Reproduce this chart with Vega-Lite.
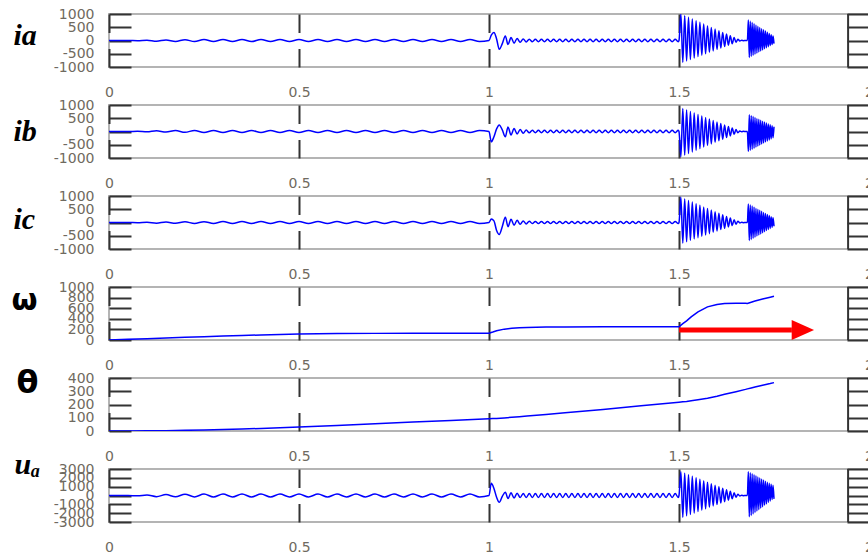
{
"$schema": "https://vega.github.io/schema/vega-lite/v6.json",
"background": "white",
"padding": {"left": 10, "top": 6, "right": 0, "bottom": 0},
"spacing": 38,
"bounds": "flush",
"config": {
  "view": {"stroke": "#b4b4b4", "strokeWidth": 2},
  "axis": {"labelFont": "DejaVu Sans", "labelFontSize": 14, "labelColor": "#6f6a60", "ticks": false, "tickSize": 0, "domain": false, "grid": true, "gridColor": "#333333", "gridWidth": 2, "gridOpacity": 1, "labelOverlap": false, "labelBound": false, "titleColor": "#000000"},
  "axisX": {"gridDash": [18.5, 16], "labelPadding": 18, "labelFlush": false},
  "axisY": {"gridDash": [22, 716], "labelPadding": 15, "titleAngle": 0, "titleAlign": "left", "titleBaseline": "alphabetic", "labelExpr": "'' + datum.value"}
},
"datasets": {
"cur": [
{"t":0,"ia":0,"ib":0,"ic":0,"ua":0},
{"t":0.025,"ia":0,"ib":0,"ic":0,"ua":0},
{"t":0.05,"ia":2,"ib":-2,"ic":1,"ua":10},
{"t":0.075,"ia":-8,"ib":8,"ic":-6,"ua":-40},
{"t":0.1,"ia":12,"ib":-12,"ic":10,"ua":60},
{"t":0.125,"ia":-28,"ib":28,"ic":-24,"ua":-130},
{"t":0.15,"ia":22,"ib":-22,"ic":20,"ua":100},
{"t":0.175,"ia":-36,"ib":35,"ic":-32,"ua":-150},
{"t":0.2,"ia":32,"ib":-30,"ic":28,"ua":150},
{"t":0.225,"ia":-40,"ib":38,"ic":-36,"ua":-160},
{"t":0.25,"ia":36,"ib":-36,"ic":32,"ua":160},
{"t":0.275,"ia":-40,"ib":40,"ic":-36,"ua":-165},
{"t":0.3,"ia":40,"ib":-38,"ic":36,"ua":160},
{"t":0.325,"ia":-38,"ib":40,"ic":-34,"ua":-160},
{"t":0.35,"ia":40,"ib":-40,"ic":36,"ua":165},
{"t":0.375,"ia":-40,"ib":38,"ic":-36,"ua":-160},
{"t":0.4,"ia":38,"ib":-40,"ic":34,"ua":160},
{"t":0.425,"ia":-40,"ib":40,"ic":-36,"ua":-165},
{"t":0.45,"ia":40,"ib":-38,"ic":36,"ua":160},
{"t":0.475,"ia":-38,"ib":40,"ic":-34,"ua":-160},
{"t":0.5,"ia":40,"ib":-40,"ic":36,"ua":165},
{"t":0.525,"ia":-40,"ib":38,"ic":-36,"ua":-160},
{"t":0.55,"ia":38,"ib":-40,"ic":34,"ua":160},
{"t":0.575,"ia":-40,"ib":40,"ic":-36,"ua":-165},
{"t":0.6,"ia":40,"ib":-38,"ic":36,"ua":160},
{"t":0.625,"ia":-38,"ib":40,"ic":-34,"ua":-160},
{"t":0.65,"ia":40,"ib":-40,"ic":36,"ua":165},
{"t":0.675,"ia":-40,"ib":38,"ic":-36,"ua":-160},
{"t":0.7,"ia":38,"ib":-40,"ic":34,"ua":160},
{"t":0.725,"ia":-40,"ib":40,"ic":-36,"ua":-165},
{"t":0.75,"ia":40,"ib":-38,"ic":36,"ua":160},
{"t":0.775,"ia":-38,"ib":40,"ic":-34,"ua":-160},
{"t":0.8,"ia":40,"ib":-40,"ic":36,"ua":165},
{"t":0.825,"ia":-40,"ib":38,"ic":-36,"ua":-160},
{"t":0.85,"ia":38,"ib":-40,"ic":34,"ua":160},
{"t":0.875,"ia":-40,"ib":40,"ic":-36,"ua":-165},
{"t":0.9,"ia":40,"ib":-38,"ic":36,"ua":160},
{"t":0.925,"ia":-38,"ib":40,"ic":-34,"ua":-160},
{"t":0.95,"ia":40,"ib":-40,"ic":36,"ua":165},
{"t":0.975,"ia":-40,"ib":38,"ic":-36,"ua":-160},
{"t":1.0,"ia":0,"ib":0,"ic":0,"ua":0},
{"t":1.006,"ia":200,"ib":-390,"ic":130,"ua":1380},
{"t":1.013,"ia":300,"ib":-200,"ic":60,"ua":800},
{"t":1.02,"ia":60,"ib":100,"ic":-300,"ua":-200},
{"t":1.027,"ia":-330,"ib":250,"ic":-450,"ua":-770},
{"t":1.035,"ia":-120,"ib":60,"ic":-150,"ua":-100},
{"t":1.043,"ia":170,"ib":-200,"ic":200,"ua":380},
{"t":1.05,"ia":-150,"ib":170,"ic":-160,"ua":-350},
{"t":1.058,"ia":110,"ib":-130,"ic":120,"ua":300},
{"t":1.066,"ia":-100,"ib":110,"ic":-100,"ua":-280},
{"t":1.074,"ia":80,"ib":-90,"ic":85,"ua":260},
{"t":1.082,"ia":-70,"ib":75,"ic":-70,"ua":-240},
{"t":1.09,"ia":60,"ib":-65,"ic":60,"ua":230},
{"t":1.098,"ia":-55,"ib":55,"ic":-55,"ua":-225},
{"t":1.106,"ia":50,"ib":-50,"ic":50,"ua":220},
{"t":1.114,"ia":-45,"ib":45,"ic":-42,"ua":-220},
{"t":1.122,"ia":45,"ib":-45,"ic":42,"ua":220},
{"t":1.13,"ia":-45,"ib":45,"ic":-42,"ua":-220},
{"t":1.138,"ia":44,"ib":-45,"ic":42,"ua":215},
{"t":1.146,"ia":-45,"ib":44,"ic":-42,"ua":-220},
{"t":1.154,"ia":45,"ib":-45,"ic":41,"ua":220},
{"t":1.162,"ia":-44,"ib":45,"ic":-42,"ua":-215},
{"t":1.17,"ia":45,"ib":-44,"ic":42,"ua":220},
{"t":1.178,"ia":-45,"ib":45,"ic":-42,"ua":-220},
{"t":1.186,"ia":45,"ib":-45,"ic":42,"ua":220},
{"t":1.194,"ia":-44,"ib":45,"ic":-41,"ua":-215},
{"t":1.202,"ia":45,"ib":-44,"ic":42,"ua":220},
{"t":1.21,"ia":-45,"ib":45,"ic":-42,"ua":-220},
{"t":1.218,"ia":44,"ib":-45,"ic":42,"ua":215},
{"t":1.226,"ia":-45,"ib":44,"ic":-42,"ua":-220},
{"t":1.234,"ia":45,"ib":-45,"ic":41,"ua":220},
{"t":1.242,"ia":-44,"ib":45,"ic":-42,"ua":-215},
{"t":1.25,"ia":45,"ib":-44,"ic":42,"ua":220},
{"t":1.258,"ia":-45,"ib":45,"ic":-42,"ua":-220},
{"t":1.266,"ia":45,"ib":-45,"ic":42,"ua":220},
{"t":1.274,"ia":-44,"ib":45,"ic":-41,"ua":-215},
{"t":1.282,"ia":45,"ib":-44,"ic":42,"ua":220},
{"t":1.29,"ia":-45,"ib":45,"ic":-42,"ua":-220},
{"t":1.298,"ia":44,"ib":-45,"ic":42,"ua":215},
{"t":1.306,"ia":-45,"ib":44,"ic":-42,"ua":-220},
{"t":1.314,"ia":45,"ib":-45,"ic":41,"ua":220},
{"t":1.322,"ia":-44,"ib":45,"ic":-42,"ua":-215},
{"t":1.33,"ia":45,"ib":-44,"ic":42,"ua":220},
{"t":1.338,"ia":-45,"ib":45,"ic":-42,"ua":-220},
{"t":1.346,"ia":45,"ib":-45,"ic":42,"ua":220},
{"t":1.354,"ia":-44,"ib":45,"ic":-41,"ua":-215},
{"t":1.362,"ia":45,"ib":-44,"ic":42,"ua":220},
{"t":1.37,"ia":-45,"ib":45,"ic":-42,"ua":-220},
{"t":1.378,"ia":44,"ib":-45,"ic":42,"ua":215},
{"t":1.386,"ia":-45,"ib":44,"ic":-42,"ua":-220},
{"t":1.394,"ia":45,"ib":-45,"ic":41,"ua":220},
{"t":1.402,"ia":-44,"ib":45,"ic":-42,"ua":-215},
{"t":1.41,"ia":45,"ib":-44,"ic":42,"ua":220},
{"t":1.418,"ia":-45,"ib":45,"ic":-42,"ua":-220},
{"t":1.426,"ia":45,"ib":-45,"ic":42,"ua":220},
{"t":1.434,"ia":-44,"ib":45,"ic":-41,"ua":-215},
{"t":1.442,"ia":45,"ib":-44,"ic":42,"ua":220},
{"t":1.45,"ia":-45,"ib":45,"ic":-42,"ua":-220},
{"t":1.458,"ia":44,"ib":-45,"ic":42,"ua":215},
{"t":1.466,"ia":-45,"ib":44,"ic":-42,"ua":-220},
{"t":1.474,"ia":45,"ib":-45,"ic":41,"ua":220},
{"t":1.482,"ia":-44,"ib":45,"ic":-42,"ua":-215},
{"t":1.49,"ia":45,"ib":-44,"ic":42,"ua":220},
{"t":1.498,"ia":-45,"ib":45,"ic":-42,"ua":-220},
{"t":1.5,"ia":0,"ib":0,"ic":0,"ua":0},
{"t":1.505,"ia":1000,"ib":-950,"ic":950,"ua":2700},
{"t":1.51,"ia":-823,"ib":871,"ic":-774,"ua":-2468},
{"t":1.515,"ia":937,"ib":-890,"ic":890,"ua":2530},
{"t":1.52,"ia":-769,"ib":815,"ic":-724,"ua":-2308},
{"t":1.525,"ia":873,"ib":-829,"ic":829,"ua":2357},
{"t":1.53,"ia":-716,"ib":758,"ic":-674,"ua":-2147},
{"t":1.535,"ia":810,"ib":-770,"ic":770,"ua":2187},
{"t":1.54,"ia":-661,"ib":700,"ic":-622,"ua":-1984},
{"t":1.545,"ia":747,"ib":-710,"ic":710,"ua":2017},
{"t":1.55,"ia":-608,"ib":644,"ic":-572,"ua":-1823},
{"t":1.555,"ia":684,"ib":-650,"ic":650,"ua":1847},
{"t":1.56,"ia":-554,"ib":587,"ic":-522,"ua":-1663},
{"t":1.565,"ia":620,"ib":-589,"ic":589,"ua":1674},
{"t":1.57,"ia":-501,"ib":530,"ic":-471,"ua":-1502},
{"t":1.575,"ia":557,"ib":-529,"ic":529,"ua":1504},
{"t":1.58,"ia":-446,"ib":473,"ic":-420,"ua":-1339},
{"t":1.585,"ia":494,"ib":-469,"ic":469,"ua":1334},
{"t":1.59,"ia":-393,"ib":416,"ic":-370,"ua":-1178},
{"t":1.595,"ia":430,"ib":-409,"ic":409,"ua":1161},
{"t":1.6,"ia":-339,"ib":359,"ic":-319,"ua":-1017},
{"t":1.605,"ia":367,"ib":-349,"ic":349,"ua":991},
{"t":1.61,"ia":-285,"ib":302,"ic":-268,"ua":-854},
{"t":1.615,"ia":304,"ib":-289,"ic":289,"ua":821},
{"t":1.62,"ia":-231,"ib":245,"ic":-218,"ua":-694},
{"t":1.625,"ia":241,"ib":-229,"ic":229,"ua":651},
{"t":1.63,"ia":-178,"ib":188,"ic":-167,"ua":-533},
{"t":1.635,"ia":177,"ib":-168,"ic":168,"ua":478},
{"t":1.64,"ia":-124,"ib":131,"ic":-117,"ua":-372},
{"t":1.645,"ia":114,"ib":-108,"ic":108,"ua":308},
{"t":1.65,"ia":-70,"ib":74,"ic":-66,"ua":-209},
{"t":1.655,"ia":51,"ib":-48,"ic":48,"ua":138},
{"t":1.66,"ia":-16,"ib":17,"ic":-15,"ua":-48},
{"t":1.665,"ia":5,"ib":-5,"ic":5,"ua":15},
{"t":1.67,"ia":-5,"ib":5,"ic":-5,"ua":-15},
{"t":1.675,"ia":0,"ib":0,"ic":0,"ua":0},
{"t":1.68,"ia":0,"ib":0,"ic":0,"ua":0},
{"t":1.6825,"ia":770,"ib":-750,"ic":700,"ua":2700},
{"t":1.685,"ia":-640,"ib":633,"ic":-679,"ua":-2418},
{"t":1.6875,"ia":724,"ib":-711,"ic":660,"ua":2581},
{"t":1.69,"ia":-599,"ib":598,"ic":-638,"ua":-2255},
{"t":1.6925,"ia":678,"ib":-672,"ic":620,"ua":2462},
{"t":1.695,"ia":-558,"ib":563,"ic":-596,"ua":-2092},
{"t":1.6975,"ia":632,"ib":-632,"ic":580,"ua":2342},
{"t":1.7,"ia":-517,"ib":529,"ic":-555,"ua":-1929},
{"t":1.7025,"ia":585,"ib":-593,"ic":540,"ua":2223},
{"t":1.705,"ia":-477,"ib":494,"ic":-513,"ua":-1766},
{"t":1.7075,"ia":539,"ib":-554,"ic":500,"ua":2104},
{"t":1.71,"ia":-436,"ib":460,"ic":-472,"ua":-1603},
{"t":1.7125,"ia":493,"ib":-515,"ic":460,"ua":1985},
{"t":1.715,"ia":-395,"ib":425,"ic":-430,"ua":-1440},
{"t":1.7175,"ia":447,"ib":-475,"ic":420,"ua":1865},
{"t":1.72,"ia":-354,"ib":390,"ic":-388,"ua":-1277},
{"t":1.7225,"ia":401,"ib":-436,"ic":380,"ua":1746},
{"t":1.725,"ia":-313,"ib":356,"ic":-347,"ua":-1114},
{"t":1.7275,"ia":355,"ib":-397,"ic":340,"ua":1627},
{"t":1.73,"ia":-273,"ib":321,"ic":-305,"ua":-951},
{"t":1.7325,"ia":308,"ib":-358,"ic":300,"ua":1508},
{"t":1.735,"ia":-232,"ib":287,"ic":-264,"ua":-788},
{"t":1.7375,"ia":262,"ib":-318,"ic":260,"ua":1388},
{"t":1.74,"ia":-191,"ib":252,"ic":-222,"ua":-625},
{"t":1.7425,"ia":216,"ib":-279,"ic":220,"ua":1269},
{"t":1.745,"ia":-150,"ib":217,"ic":-181,"ua":-462},
{"t":1.7475,"ia":170,"ib":-240,"ic":180,"ua":1150},
{"t":1.75,"ia":-120,"ib":180,"ic":-140,"ua":-380}
],
"mech": [
{"t":0,"w":0,"th":0},
{"t":0.05,"w":12,"th":0.3},
{"t":0.1,"w":25,"th":1.2},
{"t":0.15,"w":37,"th":2.8},
{"t":0.2,"w":50,"th":5},
{"t":0.25,"w":62,"th":7.8},
{"t":0.3,"w":74,"th":11},
{"t":0.35,"w":85,"th":15},
{"t":0.4,"w":96,"th":19.5},
{"t":0.45,"w":106,"th":24.5},
{"t":0.5,"w":114,"th":30},
{"t":0.6,"w":122,"th":42},
{"t":0.7,"w":125,"th":54.5},
{"t":0.8,"w":126,"th":67},
{"t":0.9,"w":127,"th":79.5},
{"t":1.0,"w":127,"th":92},
{"t":1.01,"w":150,"th":93.5},
{"t":1.02,"w":175,"th":95},
{"t":1.04,"w":205,"th":99},
{"t":1.06,"w":222,"th":103},
{"t":1.08,"w":232,"th":108},
{"t":1.1,"w":238,"th":112.5},
{"t":1.15,"w":244,"th":124.5},
{"t":1.2,"w":247,"th":137},
{"t":1.3,"w":249,"th":163},
{"t":1.4,"w":250,"th":190},
{"t":1.5,"w":250,"th":217},
{"t":1.51,"w":310,"th":220},
{"t":1.52,"w":360,"th":223},
{"t":1.532,"w":437,"th":228},
{"t":1.55,"w":530,"th":236},
{"t":1.575,"w":625,"th":248},
{"t":1.6,"w":670,"th":263},
{"t":1.62,"w":690,"th":277},
{"t":1.65,"w":695,"th":297},
{"t":1.675,"w":695,"th":314},
{"t":1.68,"w":688,"th":318},
{"t":1.69,"w":712,"th":325},
{"t":1.7,"w":735,"th":332},
{"t":1.72,"w":775,"th":346},
{"t":1.74,"w":808,"th":358},
{"t":1.75,"w":825,"th":365}
]
},
"vconcat": [
{
 "width": 760, "height": 53,
 "layer": [
  {"data": {"name": "cur"},
   "mark": {"type": "line", "color": "#0000ff", "strokeWidth": 1.5, "interpolate": "monotone", "clip": true},
   "encoding": {
    "x": {"field": "t", "type": "quantitative", "scale": {"domain": [0, 2]}, "axis": {"values": [0, 0.5, 1, 1.5, 2], "format": "~g", "title": null}},
    "y": {"field": "ia", "type": "quantitative", "scale": {"domain": [-1000, 1000]}, "axis": {"values": [-1000, -500, 0, 500, 1000], "title": "ia", "titleFont": "Liberation Serif", "titleFontStyle": "italic", "titleFontWeight": "bold", "titleFontSize": 30, "titleX": -96, "titleY": 30}}
   }},
  {"data": {"values": [{}]}, "mark": {"type": "rule", "color": "#333333", "strokeWidth": 2}, "encoding": {"x": {"datum": 1.945}}}
 ]
},
{
 "width": 760, "height": 53,
 "layer": [
  {"data": {"name": "cur"},
   "mark": {"type": "line", "color": "#0000ff", "strokeWidth": 1.5, "interpolate": "monotone", "clip": true},
   "encoding": {
    "x": {"field": "t", "type": "quantitative", "scale": {"domain": [0, 2]}, "axis": {"values": [0, 0.5, 1, 1.5, 2], "format": "~g", "title": null}},
    "y": {"field": "ib", "type": "quantitative", "scale": {"domain": [-1000, 1000]}, "axis": {"values": [-1000, -500, 0, 500, 1000], "title": "ib", "titleFont": "Liberation Serif", "titleFontStyle": "italic", "titleFontWeight": "bold", "titleFontSize": 30, "titleX": -96, "titleY": 35}}
   }},
  {"data": {"values": [{}]}, "mark": {"type": "rule", "color": "#333333", "strokeWidth": 2}, "encoding": {"x": {"datum": 1.945}}}
 ]
},
{
 "width": 760, "height": 53,
 "layer": [
  {"data": {"name": "cur"},
   "mark": {"type": "line", "color": "#0000ff", "strokeWidth": 1.5, "interpolate": "monotone", "clip": true},
   "encoding": {
    "x": {"field": "t", "type": "quantitative", "scale": {"domain": [0, 2]}, "axis": {"values": [0, 0.5, 1, 1.5, 2], "format": "~g", "title": null}},
    "y": {"field": "ic", "type": "quantitative", "scale": {"domain": [-1000, 1000]}, "axis": {"values": [-1000, -500, 0, 500, 1000], "title": "ic", "titleFont": "Liberation Serif", "titleFontStyle": "italic", "titleFontWeight": "bold", "titleFontSize": 30, "titleX": -96, "titleY": 32}}
   }},
  {"data": {"values": [{}]}, "mark": {"type": "rule", "color": "#333333", "strokeWidth": 2}, "encoding": {"x": {"datum": 1.945}}}
 ]
},
{
 "width": 760, "height": 53,
 "layer": [
  {"data": {"name": "mech"},
   "mark": {"type": "line", "color": "#0000ff", "strokeWidth": 1.5, "clip": true},
   "encoding": {
    "x": {"field": "t", "type": "quantitative", "scale": {"domain": [0, 2]}, "axis": {"values": [0, 0.5, 1, 1.5, 2], "format": "~g", "title": null}},
    "y": {"field": "w", "type": "quantitative", "scale": {"domain": [0, 1000]}, "axis": {"values": [0, 200, 400, 600, 800, 1000], "title": "ω", "titleFont": "DejaVu Sans", "titleFontWeight": "bold", "titleFontSize": 30, "titleX": -98, "titleY": 22}}
   }},
  {"data": {"values": [{}]}, "mark": {"type": "rule", "color": "#333333", "strokeWidth": 2}, "encoding": {"x": {"datum": 1.945}}},
  {"data": {"values": [{}]}, "mark": {"type": "rule", "color": "#ff0000", "strokeWidth": 5}, "encoding": {"x": {"datum": 1.5}, "x2": {"datum": 1.797}, "y": {"datum": 188, "type": "quantitative", "axis": {"values": [0, 200, 400, 600, 800, 1000], "title": "ω", "titleFont": "DejaVu Sans", "titleFontWeight": "bold", "titleFontSize": 30, "titleX": -98, "titleY": 22}}}},
  {"data": {"values": [{}]}, "mark": {"type": "point", "shape": "M-1,-0.9L1,0L-1,0.9Z", "filled": true, "color": "#ff0000", "opacity": 1, "size": 500}, "encoding": {"x": {"datum": 1.826}, "y": {"datum": 188, "type": "quantitative", "axis": {"values": [0, 200, 400, 600, 800, 1000], "title": "ω", "titleFont": "DejaVu Sans", "titleFontWeight": "bold", "titleFontSize": 30, "titleX": -98, "titleY": 22}}}}
 ]
},
{
 "width": 760, "height": 53,
 "layer": [
  {"data": {"name": "mech"},
   "mark": {"type": "line", "color": "#0000ff", "strokeWidth": 1.5, "clip": true},
   "encoding": {
    "x": {"field": "t", "type": "quantitative", "scale": {"domain": [0, 2]}, "axis": {"values": [0, 0.5, 1, 1.5, 2], "format": "~g", "title": null}},
    "y": {"field": "th", "type": "quantitative", "scale": {"domain": [0, 400]}, "axis": {"values": [0, 100, 200, 300, 400], "title": "θ", "titleFont": "DejaVu Sans", "titleFontWeight": "bold", "titleFontSize": 32, "titleX": -93, "titleY": 14}}
   }},
  {"data": {"values": [{}]}, "mark": {"type": "rule", "color": "#333333", "strokeWidth": 2}, "encoding": {"x": {"datum": 1.945}}}
 ]
},
{
 "width": 760, "height": 53,
 "layer": [
  {"data": {"name": "cur"},
   "mark": {"type": "line", "color": "#0000ff", "strokeWidth": 1.5, "interpolate": "monotone", "clip": true},
   "encoding": {
    "x": {"field": "t", "type": "quantitative", "scale": {"domain": [0, 2]}, "axis": {"values": [0, 0.5, 1, 1.5, 2], "format": "~g", "title": null}},
    "y": {"field": "ua", "type": "quantitative", "scale": {"domain": [-3000, 3000]}, "axis": {"values": [-3000, -2000, -1000, 0, 1000, 2000, 3000], "title": "uₐ", "titleFont": "Liberation Serif", "titleFontStyle": "italic", "titleFontWeight": "bold", "titleFontSize": 30, "titleX": -95, "titleY": 4}}
   }},
  {"data": {"values": [{}]}, "mark": {"type": "rule", "color": "#333333", "strokeWidth": 2}, "encoding": {"x": {"datum": 1.945}}}
 ]
}
]
}
